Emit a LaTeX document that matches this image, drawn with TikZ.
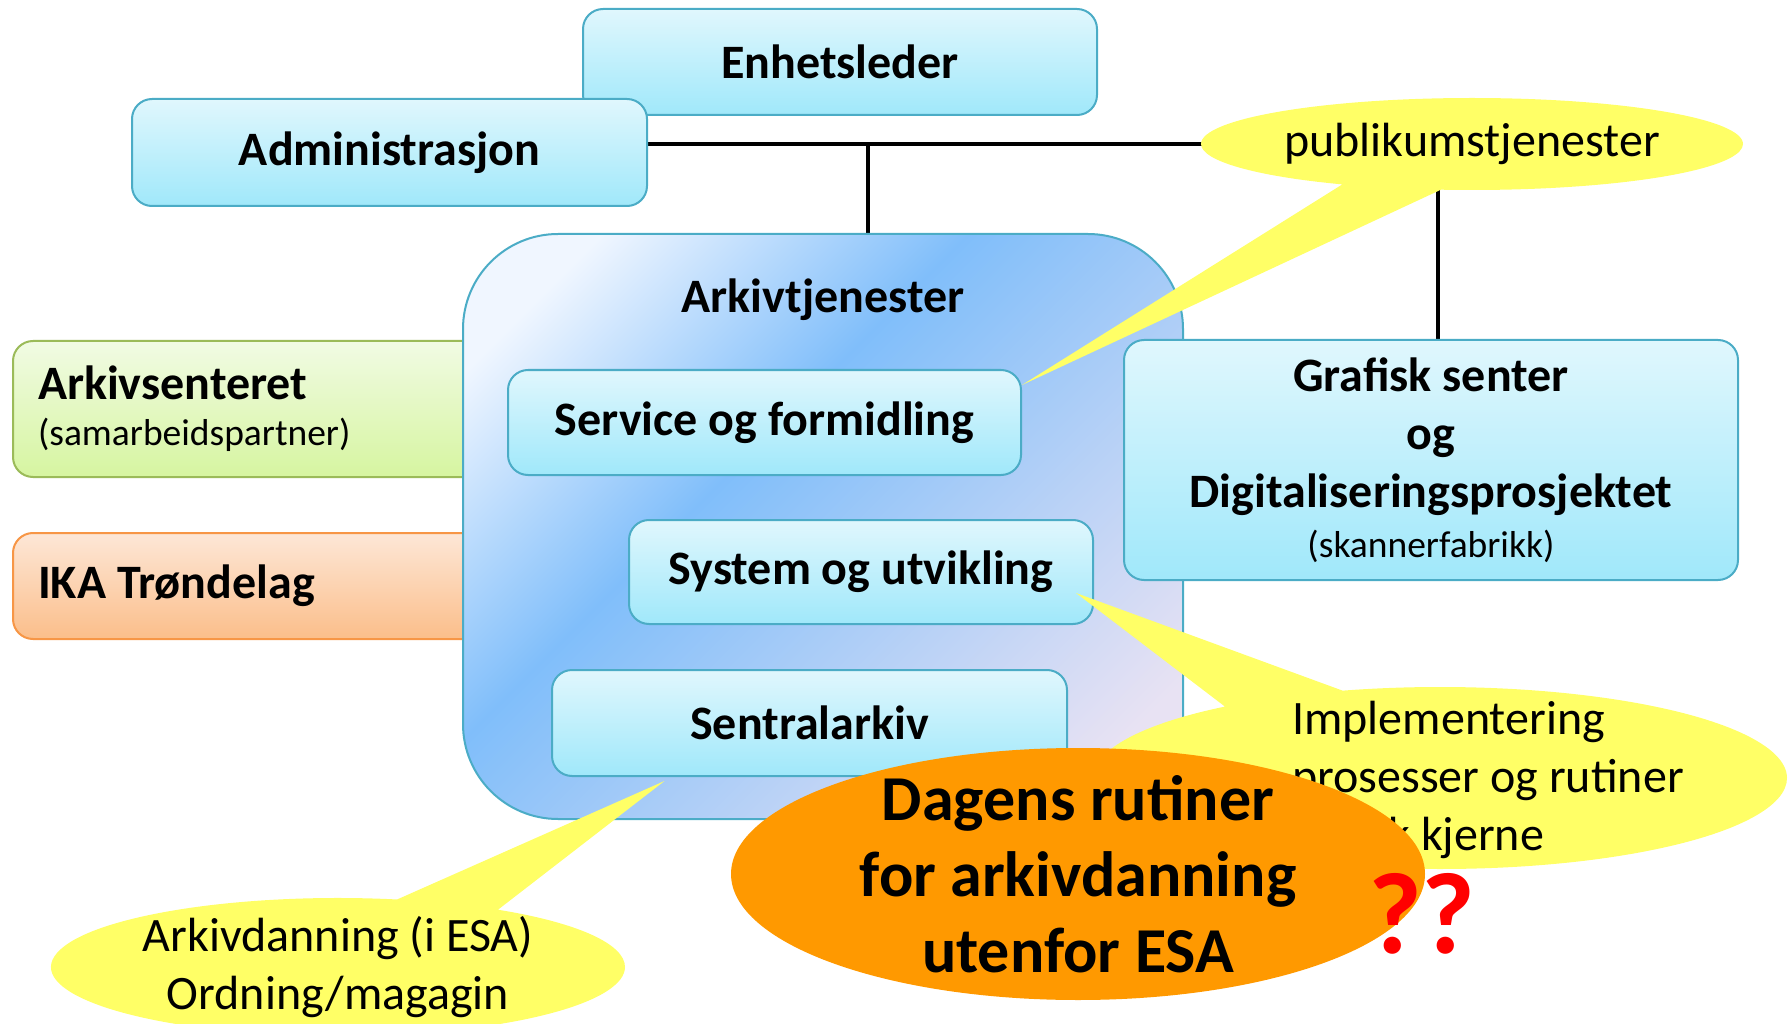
\documentclass[tikz,border=0pt]{standalone}
\usepackage{fontspec}
\setmainfont{Carlito}
\usepackage{tikz}
\usetikzlibrary{shapes.geometric,shapes.callouts}

\definecolor{boxtop}{RGB}{224,247,253}
\definecolor{boxbot}{RGB}{160,232,250}
\definecolor{boxline}{RGB}{75,172,198}
\definecolor{greentop}{RGB}{241,251,228}
\definecolor{greenbot}{RGB}{214,245,160}
\definecolor{greenline}{RGB}{155,187,89}
\definecolor{oratop}{RGB}{253,231,215}
\definecolor{orabot}{RGB}{251,190,138}
\definecolor{oraline}{RGB}{247,150,70}
\definecolor{arkwhite}{RGB}{240,246,255}
\definecolor{arkblue}{RGB}{128,190,250}
\definecolor{arklav}{RGB}{232,226,243}
\definecolor{noteyellow}{RGB}{255,255,102}
\definecolor{dagorange}{RGB}{255,153,0}

\pgfdeclarelayer{background}
\pgfsetlayers{background,main}
\pgfdeclareverticalshading{arkivshade}{100bp}{color(0bp)=(arklav); color(22bp)=(arklav); color(58bp)=(arkblue); color(78bp)=(arkwhite); color(100bp)=(arkwhite)}

\newcommand\bigbold{\fontsize{48}{58}\selectfont\bfseries}
\newcommand\bignorm{\fontsize{48}{58}\selectfont}
\newcommand\smallnorm{\fontsize{37.5}{45}\selectfont\mdseries}
\newcommand\dagfont{\fontsize{64}{76}\selectfont\bfseries}
\newcommand\qqfont{\fontsize{116}{116}\selectfont\bfseries}

\begin{document}
\begin{tikzpicture}[x=1pt,y=-1pt,
	orgline/.style={line width=3.5pt},
	orgbox/.style={draw=boxline,line width=2pt,rounded corners=20pt,top color=boxtop,bottom color=boxbot,inner sep=0pt,font=\bigbold,align=center},
	sidebox/.style={line width=2pt,rounded corners=20pt,inner xsep=25pt,inner ysep=0pt,text width=457pt,minimum width=507pt,align=flush left,font=\bigbold},
	note/.style={ellipse callout,fill=noteyellow,inner sep=0pt,callout pointer arc=22,font=\bignorm,align=center}]
	\useasboundingbox (0,0) rectangle (1789,1024);
	\node[orgbox,minimum width=514pt,minimum height=106pt] (enhet) at (840,62) {Enhetsleder};
	\node[orgbox,minimum width=515pt,minimum height=107pt] (admin) at (389.5,152.5) {Administrasjon};
	% partners
	\node[sidebox,draw=greenline,top color=greentop,bottom color=greenbot,minimum height=136pt] (senteret) at (266.5,409) {Arkivsenteret\\[-12pt]{\smallnorm (samarbeidspartner)}};
	\node[sidebox,draw=oraline,top color=oratop,bottom color=orabot,minimum height=106pt] (ika) at (266.5,586) {IKA Trøndelag};
	% arkivtjenester
	\node[draw=boxline,line width=2pt,rounded corners=95pt,shade,shading=arkivshade,shading angle=45,minimum width=720pt,minimum height=585pt,inner sep=0pt] (arkiv) at (823,526.5) {};
	\node[font=\bigbold,inner sep=0pt] (arkivtitle) at ([yshift=-67pt]arkiv.north) {Arkivtjenester};
	\node[orgbox,minimum width=513pt,minimum height=105pt] (service) at (764.5,422.5) {Service og formidling};
	\node[orgbox,minimum width=464pt,minimum height=104pt] (system) at (861,572) {System og utvikling};
	\node[orgbox,minimum width=515pt,minimum height=106pt] (sentral) at (809.5,723) {Sentralarkiv};
	\node[orgbox,minimum width=614pt,minimum height=240pt] (grafisk) at (1431,460) {Grafisk senter\\og\\Digitaliseringsprosjektet\\[-8pt]{\smallnorm (skannerfabrikk)}};
	% org lines
	\begin{pgfonlayer}{background}
		\coordinate (tee) at (868,144);
		\draw[orgline] (admin.east |- tee) -| ([xshift=7pt]grafisk.north);
		\draw[orgline] (tee) -- (tee |- arkiv.north);
	\end{pgfonlayer}
	% callouts
	\node[note,minimum width=542pt,minimum height=92pt,callout absolute pointer={([yshift=-16pt]service.north east)}] (pub) at (1472,144) {publikumstjenester};
	\node[note,minimum width=574pt,minimum height=138pt,inner ysep=-6pt,callout absolute pointer={([shift={(-145pt,-4pt)}]sentral.south)}] (arkdann) at (338,967) {Arkivdanning (i ESA)\\Ordning/magagin};
	\node[note,minimum width=694pt,minimum height=182pt,callout absolute pointer={([shift={(-18pt,-21pt)}]system.east)}] (impl) at (1440,778) {};
	\node[font=\bignorm,align=left,inner sep=0pt] (impltext) at ([shift={(48pt,-2pt)}]impl.center) {Implementering\\prosesser og rutiner\\Noark kjerne};
	\node[ellipse,fill=dagorange,minimum width=694pt,minimum height=252pt,inner xsep=0pt,inner ysep=-19pt,font=\dagfont,align=center] (dagens) at (1078,874) {Dagens rutiner\\for arkivdanning\\utenfor ESA};
	\node[text=red,font=\qqfont,inner sep=0pt] (qq) at (1422,914) {??};
\end{tikzpicture}
\end{document}
